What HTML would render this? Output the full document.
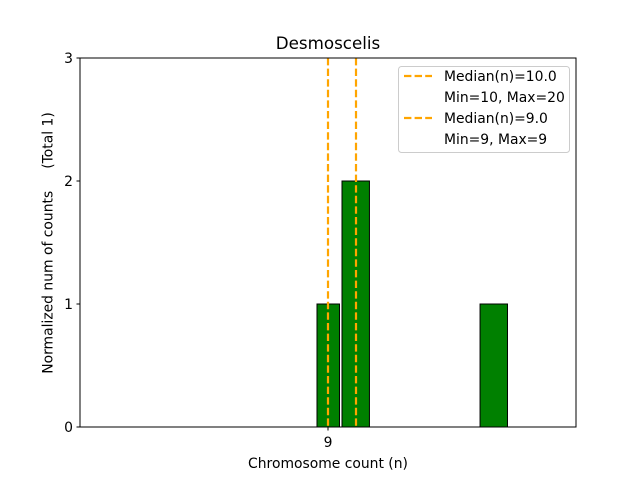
<!DOCTYPE html>
<html><head><meta charset="utf-8"><style>
html,body{margin:0;padding:0;background:#fff;}
svg{display:block;font-family:"DejaVu Sans","Liberation Sans",sans-serif;}
</style></head><body>
<svg id="chart" width="640" height="480" viewBox="0 0 640 480">
<rect x="0" y="0" width="640" height="480" fill="#fff"/>
<text x="328" y="49" font-size="16.7" text-anchor="middle">Desmoscelis</text>
<g id="bars"></g>
<g id="medians"></g>
<rect x="80" y="58" width="496" height="369" fill="none" stroke="#000" stroke-width="1"/>
<g id="yticks"></g>
<g id="xticks"></g>
<text x="328" y="468" font-size="13.9" text-anchor="middle">Chromosome count (n)</text>
<text transform="translate(52.5,243) rotate(-90)" font-size="13.9" text-anchor="middle" xml:space="preserve" style="white-space:pre">Normalized num of counts     (Total 1)</text>
<g>
<rect x="398.5" y="66.5" width="171" height="86" rx="3" fill="#fff" fill-opacity="0.8" stroke="#ccc"/>
<line x1="404" y1="76" x2="432" y2="76" stroke="#ffa500" stroke-width="2.2" stroke-dasharray="7.4,3.2"/>
<text x="444" y="81" font-size="13.9">Median(n)=10.0</text>
<text x="444" y="102" font-size="13.9">Min=10, Max=20</text>
<line x1="404" y1="118" x2="432" y2="118" stroke="#ffa500" stroke-width="2.2" stroke-dasharray="7.4,3.2"/>
<text x="444" y="123" font-size="13.9">Median(n)=9.0</text>
<text x="444" y="144" font-size="13.9">Min=9, Max=9</text>
</g>
</svg>
<script>
const binLefts = [8.607, 9.5, 14.43];
const binRights = [9.41, 10.48, 15.41];
const counts = [1, 2, 1];
const medians = [9, 10];
const yTickValues = [0, 1, 2, 3];
const xTickValues = [9];
const xMin = 0.143, xMax = 17.857, yMin = 0, yMax = 3;
function sx(v){return 80 + (v - xMin) / (xMax - xMin) * 496;}
function sy(v){return 427 - (v - yMin) / (yMax - yMin) * 369;}
const NS = "http://www.w3.org/2000/svg";
function mk(tag, attrs, parent){const e=document.createElementNS(NS,tag);for(const k in attrs)e.setAttribute(k,attrs[k]);parent.appendChild(e);return e;}
const gb=document.getElementById('bars');
counts.forEach((c,i)=>{
  const r=mk('rect',{x:sx(binLefts[i]),y:sy(c),width:sx(binRights[i])-sx(binLefts[i]),height:sy(0)-sy(c),fill:'#008000',stroke:'#000','stroke-width':1},gb);
  
  
});
const gm=document.getElementById('medians');
medians.forEach((m,i)=>{
  const l=mk('line',{x1:sx(m),x2:sx(m),y1:sy(yMax),y2:sy(0),stroke:'#ffa500','stroke-width':2.2,'stroke-dasharray':'7.4,3.2'},gm);
  
  
});
const gy=document.getElementById('yticks');
yTickValues.forEach(v=>{
  const t=mk('line',{x1:76.5,x2:80,y1:sy(v),y2:sy(v),stroke:'#000'},gy);
  
  
  const tx=mk('text',{x:73,y:sy(v)+5,'font-size':13.9,'text-anchor':'end'},gy);
  tx.textContent=v;
  
  
});
const gx=document.getElementById('xticks');
xTickValues.forEach(v=>{
  const t=mk('line',{x1:sx(v),x2:sx(v),y1:427,y2:430.5,stroke:'#000'},gx);
  
  
  const tx=mk('text',{x:sx(v),y:447,'font-size':13.9,'text-anchor':'middle'},gx);
  tx.textContent=v;
  
  
});
</script>
</body></html>
